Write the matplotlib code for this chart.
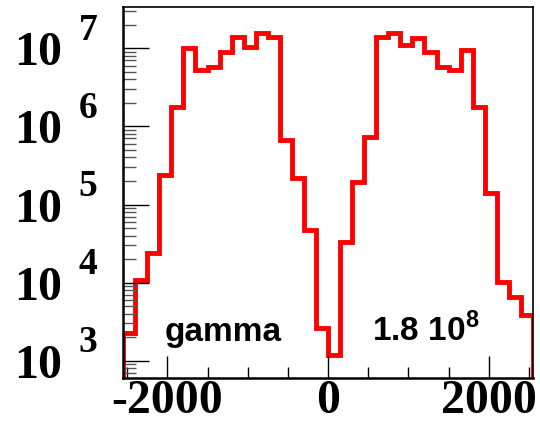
import numpy as np
import matplotlib
matplotlib.use("Agg")
import matplotlib.pyplot as plt
from matplotlib.ticker import FixedLocator, LogLocator, MultipleLocator, NullFormatter

plt.rcParams["mathtext.fontset"] = "custom"
plt.rcParams["mathtext.rm"] = "Liberation Sans:bold"
plt.rcParams["mathtext.bf"] = "Liberation Sans:bold"

# histogram: 34 bins of width 150 from -2550 to 2550
x_min, x_max, n_bins = -2550, 2550, 34
counts = [2245, 10800, 23700, 2.39e5, 1.79e6, 1.0e7, 5.28e6, 5.82e6, 9.06e6,
          1.41e7, 1.05e7, 1.56e7, 1.41e7, 6.7e5, 2.16e5, 4.72e4, 2600, 1184,
          3.35e4, 1.96e5, 7.4e5, 1.41e7, 1.56e7, 1.1e7, 1.34e7, 9.06e6, 5.82e6,
          5.28e6, 9.5e6, 1.79e6, 1.39e5, 1.03e4, 6600, 3850]
y_exponents = [3, 4, 5, 6, 7]
x_major = [-2000, 0, 2000]
label_name = "gamma"
label_total = r"1.8 10$^{\mathbf{8}}$"

edges = np.linspace(x_min, x_max, n_bins + 1)

fig = plt.figure(figsize=(5.4, 4.29), dpi=100)
ax = fig.add_axes([0.228, 0.119, 0.759, 0.865])

ax.stairs(counts, edges, baseline=1, color="red", lw=3.5)

ax.set_yscale("log")
ax.set_xlim(x_min, x_max)
ax.set_ylim(10 ** 2.78, 10 ** 7.53)

serif = dict(family="Liberation Serif", weight="bold", size=34.5)

# y axis: "10" as tick label, exponent as separate text
ax.yaxis.set_major_locator(FixedLocator([10.0 ** e for e in y_exponents]))
ax.yaxis.set_minor_locator(LogLocator(base=10, subs=np.arange(2, 10)))
ax.yaxis.set_minor_formatter(NullFormatter())
for e in y_exponents:
    ax.annotate(str(e), xy=(-0.108, 10.0 ** e), xycoords=("axes fraction", "data"),
                xytext=(0, 13), textcoords="offset points", ha="left", va="center",
                fontfamily="Liberation Serif", fontweight="bold", fontsize=27,
                annotation_clip=False)

ax.xaxis.set_major_locator(FixedLocator(x_major))
ax.xaxis.set_minor_locator(MultipleLocator(500))
ax.set_xticklabels([str(v) for v in x_major], **serif)
ax.set_yticklabels(["10"] * len(y_exponents), **serif)

ax.tick_params(axis="y", which="major", direction="in", length=19, width=1.0, pad=44, left=True, right=False)
ax.tick_params(axis="y", which="minor", direction="in", length=9.5, width=1.0, color="#555555")
ax.tick_params(axis="x", which="major", direction="in", length=16, width=1.0, pad=1, top=False)
ax.tick_params(axis="x", which="minor", direction="in", length=8, width=1.0)

for side in ["left", "bottom"]:
    ax.spines[side].set_linewidth(1.8)
for side in ["right", "top"]:
    ax.spines[side].set_linewidth(1.2)

sans = dict(family="Liberation Sans", weight="bold", size=24)
ax.text(0.102, 0.10, label_name, transform=ax.transAxes, ha="left", va="baseline", **sans)
ax.text(0.607, 0.10, label_total, transform=ax.transAxes, ha="left", va="baseline", **sans)

fig.savefig("out.png", dpi=100)
